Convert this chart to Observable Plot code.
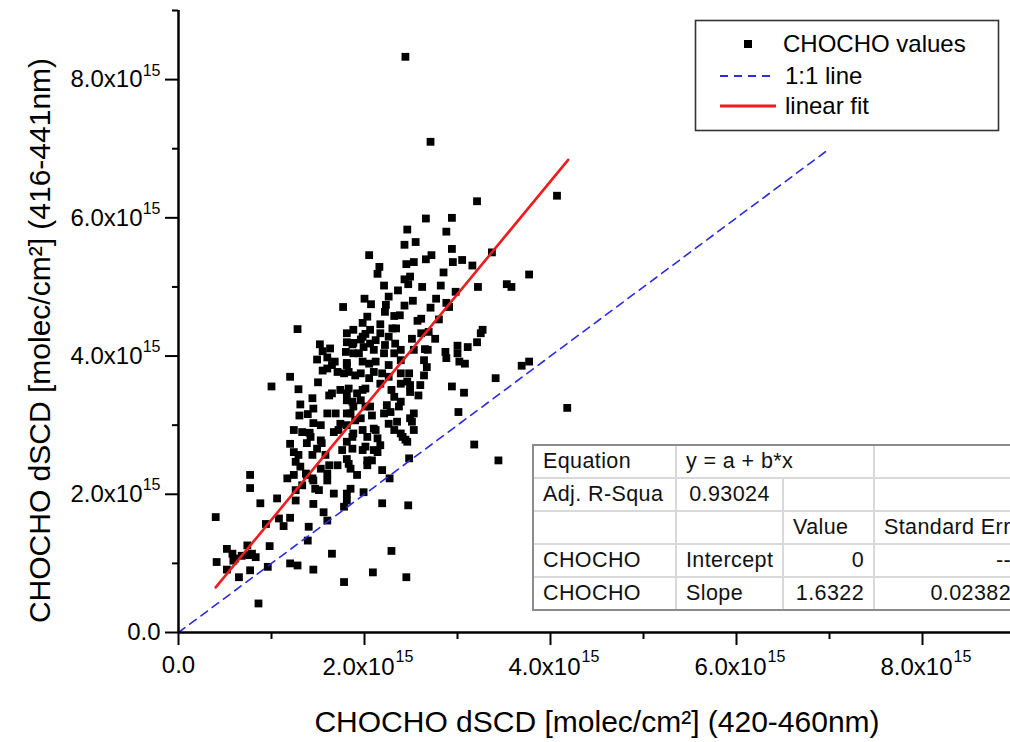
<!DOCTYPE html>
<html>
<head>
<meta charset="utf-8">
<script src="https://cdn.jsdelivr.net/npm/d3@7"></script>
<script src="https://cdn.jsdelivr.net/npm/@observablehq/plot@0.6"></script>
<style>
html, body { margin: 0; padding: 0; overflow: hidden; background: #fff; }
#wrap { position: relative; width: 1015px; height: 742px; font-family: "Liberation Sans", Arial, sans-serif; }
#legend { position: absolute; left: 690px; top: 15px; }
#tblbox { position: absolute; left: 532px; top: 444px; border: 2px solid #8c8c8c; background: #fff; }
#tblbox table { border-collapse: collapse; border-style: hidden; table-layout: fixed; width: 486px; }
#tblbox td { border: 2px solid #d9d9d9; height: 31px; padding: 0 9px; font-size: 21.5px; letter-spacing: 0.4px;
  white-space: nowrap; overflow: hidden; color: #111; vertical-align: middle; }
#tblbox td.c { text-align: center; }
#tblbox td.r { text-align: right; }
</style>
</head>
<body>
<div id="wrap"></div>
<script>
// ---------- data (values in units of 1e15 molec/cm2) ----------
const UNIT = 1e15;

// CHOCHO dSCD pairs: [420-460nm, 416-441nm]
const chochoPoints = [
[3.21,6.24],[2.66,5.99],[2.94,6.00],[2.46,5.83],[2.88,5.80],[2.43,5.61],[2.55,5.65],[2.94,5.55],[2.05,5.46],[2.72,5.46],
[2.66,5.40],[2.53,5.36],[2.45,5.33],[2.95,5.36],[3.05,5.39],[3.16,5.31],[2.16,5.29],[2.14,5.19],[2.85,5.21],[2.49,5.15],
[2.43,5.11],[2.47,5.04],[2.21,5.02],[2.62,5.00],[2.82,5.02],[3.22,5.00],[2.36,4.95],[2.98,4.93],[2.26,4.86],[2.00,4.83],
[2.07,4.75],[2.52,4.80],[2.77,4.83],[2.88,4.77],[2.23,4.74],[2.43,4.73],[2.71,4.70],[2.91,4.71],[1.77,4.71],[2.22,4.64],
[2.32,4.58],[2.38,4.59],[2.03,4.57],[2.57,4.51],[2.61,4.54],[2.80,4.53],[1.98,4.48],[2.17,4.46],[2.30,4.40],[2.34,4.40],
[1.28,4.39],[1.88,4.38],[2.06,4.38],[2.01,4.32],[1.81,4.33],[2.61,4.33],[2.69,4.35],[3.25,4.33],[2.26,4.28],[2.17,4.33],
[2.51,4.25],[2.76,4.25],[1.96,4.24],[1.88,4.19],[2.06,4.18],[1.52,4.17],[2.22,4.16],[2.33,4.18],[2.65,4.10],[2.68,4.09],
[3.21,4.20],[3.11,4.13],[3.00,4.15],[1.81,4.20],[1.63,4.11],[1.55,4.07],[1.49,3.95],[1.60,3.98],[1.80,4.06],[1.88,4.04],
[1.99,4.13],[2.10,4.09],[2.21,4.04],[2.32,4.04],[2.39,4.09],[2.53,4.09],[2.87,4.06],[2.88,3.97],[3.00,4.04],[3.02,3.92],
[3.08,3.89],[1.68,3.92],[1.81,3.90],[1.98,3.92],[2.12,3.92],[2.26,3.87],[2.39,3.94],[2.64,3.94],[2.67,3.84],[1.55,3.79],
[1.71,3.77],[1.83,3.77],[1.96,3.75],[2.10,3.77],[2.19,3.75],[2.26,3.70],[2.39,3.75],[2.48,3.75],[2.64,3.72],[1.20,3.70],
[1.00,3.56],[1.29,3.52],[1.50,3.62],[1.65,3.46],[1.74,3.51],[1.81,3.46],[1.92,3.46],[2.01,3.53],[2.17,3.60],[2.29,3.51],
[2.39,3.60],[2.49,3.58],[2.60,3.58],[2.58,3.43],[2.94,3.56],[3.07,3.47],[1.44,3.39],[1.62,3.43],[2.32,3.41],[2.49,3.48],
[2.46,3.63],[1.65,3.87],[1.60,3.82],
[1.31,3.30],[1.30,3.14],[1.39,3.16],[1.45,3.24],[1.53,3.00],[1.45,3.03],[1.24,2.93],[1.33,2.90],[1.41,2.89],[1.38,2.74],
[1.20,2.73],[1.24,2.61],[1.29,2.57],[1.44,2.57],[1.53,2.78],[1.49,2.66],[1.60,3.17],[1.69,3.17],[1.74,3.02],[1.67,2.90],
[1.81,3.36],[1.88,3.27],[1.85,3.17],[1.96,3.36],[2.06,3.27],[1.96,3.10],[1.81,3.00],[1.88,2.88],[1.98,2.93],[2.10,2.95],
[2.03,2.83],[1.81,2.76],[1.76,2.64],[1.87,2.66],[2.01,2.69],[2.10,2.64],[2.17,2.71],[2.14,2.81],[2.21,3.17],[2.26,3.02],
[2.32,2.93],[2.39,2.88],[2.46,2.76],[2.49,3.10],[2.53,3.17],[2.53,2.93],[2.24,3.29],[2.37,3.27],[3.01,3.19],[3.18,2.72],
[2.48,2.52],[2.19,2.35],[2.27,2.23],[1.99,2.03],[2.19,1.87],[2.47,1.84],[2.29,1.18],[2.09,0.87],[2.45,0.80],[1.78,0.73],
[1.65,1.14],[1.45,0.91],[1.20,1.00],[1.28,0.97],[1.39,1.33],[1.40,1.53],[1.60,1.62],[1.45,1.86],[1.56,1.74],[1.67,2.01],
[1.81,2.01],[1.85,2.08],[1.78,1.82],[1.81,1.91],[1.92,2.28],[1.85,2.37],[1.81,2.51],[2.03,2.49],[2.14,2.61],[2.03,2.42],
[1.71,2.42],[1.62,2.42],[1.60,2.30],[1.53,2.37],[1.60,2.20],[1.45,2.20],[1.38,2.28],[1.31,2.40],[1.26,2.47],[1.17,2.23],
[1.26,2.06],[1.33,2.13],[1.47,2.08],[1.26,1.91],[1.06,1.94],[0.88,1.87],[0.77,2.28],[0.77,2.09],[0.40,1.67],[0.94,1.57],
[1.08,1.65],[1.13,1.54],[1.20,1.66],[0.98,1.25],[0.74,1.26],[0.52,1.21],[0.58,1.14],[0.68,1.11],[0.79,1.14],[0.83,1.09],
[0.41,1.02],[0.59,1.04],[0.52,0.91],[0.65,0.80],[0.77,0.90],[0.96,0.95],[0.86,0.42],[0.61,1.07],[0.76,1.12],[1.51,2.06],
[1.44,2.23],[1.37,2.30],[1.24,2.28],
[2.39,3.34],[2.28,3.19],[2.35,3.05],[2.51,3.05],[2.41,2.83],[2.44,2.79],[1.42,2.83],[1.54,2.74],[1.58,2.57],
[4.07,6.32],[3.37,5.50],[3.77,5.18],[3.53,5.04],[3.58,5.00],[3.27,4.38],[3.41,3.68],[3.69,3.86],[3.77,3.92],[4.18,3.25],
[3.44,2.49],[2.44,8.33],[2.71,7.10],
[1.87,4.17],[1.98,4.28],[2.12,4.23],[1.94,4.04],[2.05,3.89],[1.81,3.87],[1.78,3.75],[1.90,3.72],[2.05,3.68],[1.83,3.53],
[1.98,3.51],[1.87,3.34],[2.01,3.27],[1.81,3.17],[1.90,3.07],[2.08,3.14],[1.72,2.93],[1.87,2.83],[2.12,2.93],[1.98,2.64],
[2.08,2.49],[1.83,2.44]
];

// fitted line: y = a + b*x with a = 0, b = 1.6322, drawn over the data range
const fitIntercept = 0;
const fitSlope = 1.6322;
const fitXRange = [0.40, 4.19];
// 1:1 reference line extent
const oneToOneRange = [0, 7.0];

// axes
const axisDomain = [0, 9];
const majorTicks = [0, 2, 4, 6, 8];
const minorTicks = [1, 3, 5, 7, 9];
const tickMantissas = ["0.0", "2.0x10", "4.0x10", "6.0x10", "8.0x10"];
const tickExponents = ["", "15", "15", "15", "15"];
const xTitle = "CHOCHO dSCD [molec/cm²] (420-460nm)";
const yTitle = "CHOCHO dSCD [molec/cm²] (416-441nm)";

// legend + fit table
const legendLabels = ["CHOCHO values", "1:1 line", "linear fit"];
const tableRows = [
  ["Equation", "y = a + b*x", ""],
  ["Adj. R-Squa", "0.93024", "", ""],
  ["", "", "Value", "Standard Err"],
  ["CHOCHO", "Intercept", "0", "--"],
  ["CHOCHO", "Slope", "1.6322", "0.02382"]
];

// ---------- derived tables ----------
const pts = chochoPoints.map(([x, y]) => ({x: x * UNIT, y: y * UNIT}));
const fitLine = fitXRange.map(x => ({x: x * UNIT, y: (fitIntercept + fitSlope * x) * UNIT}));
const oneLine = oneToOneRange.map(v => ({x: v * UNIT, y: v * UNIT}));
const tickLabels = majorTicks.map((v, i) => ({v: v * UNIT, m: tickMantissas[i], e: tickExponents[i]}));
const withExp = tickLabels.filter(d => d.e);
const noExp = tickLabels.filter(d => !d.e);
const major = majorTicks.map(v => v * UNIT);
const minor = minorTicks.map(v => v * UNIT);

const RED = "#ee1c1c", BLUE = "#2b2be0";
const FONT = "Liberation Sans, Arial, sans-serif";
const LM = {lineAnchor: "middle", fill: "#000"};

const chart = Plot.plot({
  width: 1015,
  height: 742,
  marginLeft: 178,
  marginRight: 0,
  marginTop: 10,
  marginBottom: 110,
  style: {fontFamily: FONT, background: "#fff", color: "#000", overflow: "visible"},
  x: {domain: axisDomain.map(v => v * UNIT)},
  y: {domain: axisDomain.map(v => v * UNIT)},
  marks: [
    Plot.dot(pts, {x: "x", y: "y", symbol: "square", r: 4.4, fill: "#000", stroke: "none"}),
    Plot.line(oneLine, {x: "x", y: "y", stroke: BLUE, strokeWidth: 1.6, strokeDasharray: "8,6"}),
    Plot.line(fitLine, {x: "x", y: "y", stroke: RED, strokeWidth: 2.6}),
    Plot.ruleY([0], {stroke: "#000", strokeWidth: 2.5}),
    Plot.ruleX([0], {stroke: "#000", strokeWidth: 2.5}),
    Plot.axisX(major, {anchor: "bottom", tickSize: 13, strokeWidth: 2, tickFormat: () => "", label: null}),
    Plot.axisX(minor, {anchor: "bottom", tickSize: 7, strokeWidth: 2, tickFormat: () => "", label: null}),
    Plot.axisY(major, {anchor: "left", tickSize: 13, strokeWidth: 2, tickFormat: () => "", label: null}),
    Plot.axisY(minor, {anchor: "left", tickSize: 6, strokeWidth: 2, tickFormat: () => "", label: null}),
    // x tick labels
    Plot.text(noExp, {...LM, x: "v", text: "m", frameAnchor: "bottom", textAnchor: "middle", dy: 33, fontSize: 24}),
    Plot.text(withExp, {...LM, x: "v", text: "m", frameAnchor: "bottom", textAnchor: "end", dx: 30, dy: 35, fontSize: 24}),
    Plot.text(withExp, {...LM, x: "v", text: "e", frameAnchor: "bottom", textAnchor: "start", dx: 31, dy: 24, fontSize: 16}),
    // y tick labels
    Plot.text(noExp, {...LM, y: "v", text: "m", frameAnchor: "left", textAnchor: "end", dx: -18, fontSize: 24}),
    Plot.text(withExp, {...LM, y: "v", text: "m", frameAnchor: "left", textAnchor: "end", dx: -36, fontSize: 24}),
    Plot.text(withExp, {...LM, y: "v", text: "e", frameAnchor: "left", textAnchor: "end", dx: -18, dy: -9, fontSize: 16}),
    // axis titles
    Plot.text([xTitle], {...LM, text: d => d, frameAnchor: "bottom", textAnchor: "middle", dy: 90, fontSize: 30}),
    Plot.text([yTitle], {...LM, text: d => d, frameAnchor: "left", textAnchor: "middle", dx: -138, dy: 19, rotate: -90, fontSize: 30})
  ]
});

const wrap = document.getElementById("wrap");
wrap.appendChild(chart);

// ---------- legend ----------
const svgNS = "http://www.w3.org/2000/svg";
const leg = document.createElementNS(svgNS, "svg");
leg.setAttribute("id", "legend");
leg.setAttribute("width", 320);
leg.setAttribute("height", 125);
const rowsY = [29, 61, 91];
let s = `<rect x="5.5" y="5.5" width="303" height="110" fill="#fff" stroke="#333" stroke-width="1.6"/>`;
s += `<rect x="54" y="${rowsY[0] - 4}" width="8" height="8" fill="#000"/>`;
s += `<line x1="30" x2="86" y1="${rowsY[1]}" y2="${rowsY[1]}" stroke="${BLUE}" stroke-width="2" stroke-dasharray="8,6"/>`;
s += `<line x1="30" x2="86" y1="${rowsY[2]}" y2="${rowsY[2]}" stroke="${RED}" stroke-width="3"/>`;
legendLabels.forEach((t, i) => {
  s += `<text x="${i === 0 ? 93 : 95}" y="${rowsY[i]}" dy="0.35em" font-size="24" font-family="${FONT}" fill="#000">${t}</text>`;
});
leg.innerHTML = s;
wrap.appendChild(leg);

// ---------- fit table ----------
const box = document.createElement("div");
box.id = "tblbox";
const widths = [142, 107, 91, 146];
let h = `<table><colgroup>${widths.map(w => `<col style="width:${w}px">`).join("")}</colgroup>`;
tableRows.forEach((row, ri) => {
  h += "<tr>";
  if (ri === 0) {
    h += `<td>${row[0]}</td><td colspan="2">${row[1]}</td><td>${row[2]}</td>`;
  } else {
    row.forEach((c, ci) => {
      let cls = "";
      if (ri === 1 && ci === 1) cls = "c";
      if (ri >= 3 && ci >= 2) cls = "r";
      h += `<td class="${cls}">${c}</td>`;
    });
  }
  h += "</tr>";
});
h += "</table>";
box.innerHTML = h;
wrap.appendChild(box);
</script>
</body>
</html>
